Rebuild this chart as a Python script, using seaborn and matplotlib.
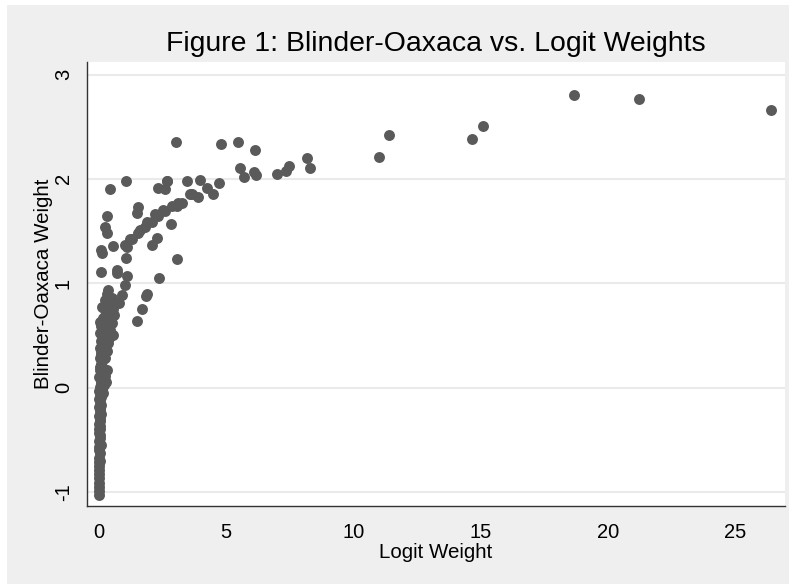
import matplotlib
matplotlib.use("Agg")
import matplotlib.pyplot as plt
import seaborn as sns
import pandas as pd
from matplotlib.patches import Rectangle

# ---- data ----
logit_weight = [
    # dense column near zero
    0.01, 0.00, 0.02, 0.01, 0.00, 0.02, 0.01, 0.00, 0.02, 0.01,
    0.03, 0.00, 0.02, 0.04, 0.01, 0.03, 0.05, 0.00, 0.02, 0.05,
    0.01, 0.06, 0.03, 0.00, 0.08, 0.04, 0.01, 0.09, 0.05, 0.02,
    0.10, 0.06, 0.01, 0.12, 0.04, 0.20, 0.26, 0.08, 0.15, 0.02,
    0.22, 0.10, 0.05, 0.18, 0.30, 0.08, 0.13, 0.03, 0.20, 0.10,
    0.33, 0.05, 0.16, 0.35, 0.09, 0.22, 0.13, 0.04, 0.28, 0.45,
    0.18, 0.10, 0.55, 0.35, 0.24, 0.06, 0.50, 0.16, 0.30, 0.60,
    0.42, 0.22, 0.55, 0.12, 0.36, 0.28, 0.44, 0.24, 0.50, 0.30,
    0.37, 0.76, 0.89, 0.80, 1.02,
    0.15, 0.25, 0.40, 0.05, 0.12, 0.20, 0.15, 0.08, 0.30, 0.45,
    0.40, 0.20, 0.25, 0.10, 0.06, 0.03, 0.07, 0.04,
    # scattered points above the column
    0.07, 0.70, 0.72, 1.09, 1.06, 0.10, 0.14, 0.54, 1.02, 0.24,
    0.30, 0.30, 0.43, 1.05,
    # rising band
    1.09, 1.22, 1.28, 1.55, 1.61, 1.81, 1.87, 2.07, 2.20, 2.33,
    2.53, 2.59, 2.86, 3.05, 3.12, 3.25, 1.55, 1.48, 2.07, 2.27,
    2.83, 3.58, 3.64, 3.90, 3.97, 4.23, 4.49, 4.73, 3.47, 2.68,
    2.33, 2.59, 2.66, 3.01, 3.05, 2.36, 1.87, 1.68, 1.48, 1.85,
    # upper right arc
    4.78, 5.45, 6.13, 5.55, 5.71, 6.09, 6.17, 6.98, 7.35, 7.48,
    8.16, 8.29, 11.01, 11.41, 14.64, 15.08, 18.65, 21.23, 26.40,
]
bo_weight = [
    -1.03, -0.99, -0.95, -0.91, -0.87, -0.83, -0.79, -0.75, -0.71, -0.67,
    -0.63, -0.60, -0.57, -0.54, -0.51, -0.48, -0.45, -0.43, -0.40, -0.37,
    -0.35, -0.32, -0.30, -0.27, -0.25, -0.22, -0.19, -0.17, -0.14, -0.11,
    -0.09, -0.06, -0.03, -0.01, 0.01, 0.03, 0.05, 0.06, 0.08, 0.10,
    0.11, 0.14, 0.17, 0.18, 0.17, 0.23, 0.26, 0.28, 0.30, 0.33,
    0.35, 0.38, 0.40, 0.43, 0.45, 0.47, 0.50, 0.52, 0.53, 0.55,
    0.56, 0.59, 0.50, 0.60, 0.62, 0.63, 0.62, 0.67, 0.70, 0.70,
    0.72, 0.74, 0.75, 0.77, 0.78, 0.81, 0.83, 0.84, 0.86, 0.90,
    0.94, 0.82, 0.89, 0.81, 0.98,
    0.45, 0.40, 0.48, 0.20, 0.35, 0.15, -0.05, 0.30, 0.55, 0.70,
    0.58, 0.50, 0.28, 0.05, -0.20, -0.40, -0.55, -0.70,
    1.11, 1.13, 1.10, 1.07, 1.24, 1.32, 1.29, 1.36, 1.37, 1.54,
    1.48, 1.64, 1.90, 1.98,
    1.35, 1.42, 1.42, 1.48, 1.51, 1.54, 1.59, 1.59, 1.66, 1.64,
    1.70, 1.69, 1.74, 1.74, 1.77, 1.77, 1.73, 1.67, 1.37, 1.43,
    1.57, 1.86, 1.86, 1.83, 1.99, 1.91, 1.86, 1.96, 1.98, 1.98,
    1.91, 1.90, 1.98, 2.35, 1.23, 1.05, 0.90, 0.75, 0.64, 0.88,
    2.33, 2.35, 2.28, 2.10, 2.02, 2.07, 2.04, 2.05, 2.08, 2.12,
    2.20, 2.10, 2.21, 2.42, 2.38, 2.51, 2.80, 2.77, 2.66,
]
x_ticks = [0, 5, 10, 15, 20, 25]
y_ticks = [-1, 0, 1, 2, 3]
title_text = "Figure 1: Blinder-Oaxaca vs. Logit Weights"
x_label = "Logit Weight"
y_label = "Blinder-Oaxaca Weight"

df = pd.DataFrame({"logit": logit_weight, "bo": bo_weight})

sns.set_style("white")
plt.rcParams["font.family"] = ["Liberation Sans", "DejaVu Sans"]
plt.rcParams["text.color"] = "black"
plt.rcParams["axes.labelcolor"] = "black"

fig = plt.figure(figsize=(7.94, 5.86), dpi=100, facecolor="white")
# Stata-style gray outer region
bg = Rectangle((7 / 794, 2 / 586), (789 - 7) / 794, (581 - 2) / 586,
               transform=fig.transFigure, facecolor="#EFEFEF",
               edgecolor="none", zorder=-10)
fig.patches.append(bg)

ax = fig.add_axes([86.7 / 794, (586 - 506) / 586, (785 - 86.7) / 794, (506 - 62) / 586])
ax.set_zorder(1)
ax.set_facecolor("white")

for yt in y_ticks:
    ax.axhline(yt, color="#EAEAEA", lw=1.5, zorder=0)

sns.scatterplot(data=df, x="logit", y="bo", ax=ax, s=62, color="#5A5A5A",
                linewidth=0, alpha=1, zorder=3, legend=False)

ax.set_xlim(-0.48, 26.95)
ax.set_ylim(-1.134, 3.12)
ax.set_xticks(x_ticks)
ax.set_yticks(y_ticks)
ax.set_xticklabels([str(t) for t in x_ticks])
ax.set_yticklabels([str(t) for t in y_ticks], rotation=90, va="center")

for side in ["top", "right"]:
    ax.spines[side].set_visible(False)
for side in ["left", "bottom"]:
    ax.spines[side].set_color("#333333")
    ax.spines[side].set_linewidth(1.0)

ax.tick_params(axis="both", which="major", direction="out", length=6, width=1,
               color="#333333", labelsize=14.5, labelcolor="black")
ax.tick_params(axis="y", pad=4)
ax.tick_params(axis="x", pad=6)

ax.set_xlabel(x_label, fontsize=14.8, labelpad=1)
ax.set_ylabel(y_label, fontsize=14.8, labelpad=0.5)
fig.text(435.5 / 794, 1 - 44 / 586, title_text, ha="center", va="center", fontsize=20.4)

fig.savefig("out.png", dpi=100, facecolor=fig.get_facecolor())
